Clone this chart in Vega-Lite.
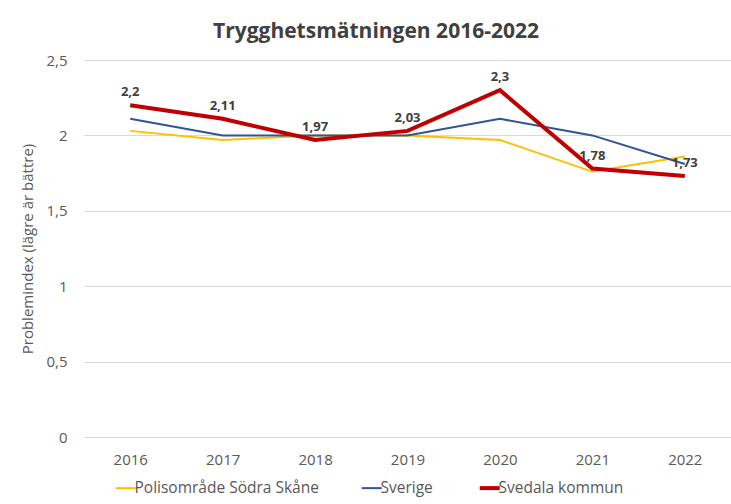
{
  "$schema": "https://vega.github.io/schema/vega-lite/v6.json",
  "width": 647,
  "height": 377,
  "autosize": {"type": "none"},
  "padding": {"left": 84, "top": 60, "right": 0, "bottom": 67},
  "background": "white",
  "title": {
    "text": "Trygghetsmätningen 2016-2022",
    "fontSize": 21,
    "fontWeight": "bold",
    "color": "#404040",
    "font": "Open Sans",
    "anchor": "middle",
    "frame": "bounds",
    "offset": 11
  },
  "data": {
    "values": [
      {"year": "2016", "serie": "Polisområde Södra Skåne", "value": 2.03},
      {"year": "2017", "serie": "Polisområde Södra Skåne", "value": 1.97},
      {"year": "2018", "serie": "Polisområde Södra Skåne", "value": 2.0},
      {"year": "2019", "serie": "Polisområde Södra Skåne", "value": 2.0},
      {"year": "2020", "serie": "Polisområde Södra Skåne", "value": 1.97},
      {"year": "2021", "serie": "Polisområde Södra Skåne", "value": 1.76},
      {"year": "2022", "serie": "Polisområde Södra Skåne", "value": 1.86},
      {"year": "2016", "serie": "Sverige", "value": 2.11},
      {"year": "2017", "serie": "Sverige", "value": 2.0},
      {"year": "2018", "serie": "Sverige", "value": 2.0},
      {"year": "2019", "serie": "Sverige", "value": 2.0},
      {"year": "2020", "serie": "Sverige", "value": 2.11},
      {"year": "2021", "serie": "Sverige", "value": 2.0},
      {"year": "2022", "serie": "Sverige", "value": 1.81},
      {"year": "2016", "serie": "Svedala kommun", "value": 2.2},
      {"year": "2017", "serie": "Svedala kommun", "value": 2.11},
      {"year": "2018", "serie": "Svedala kommun", "value": 1.97},
      {"year": "2019", "serie": "Svedala kommun", "value": 2.03},
      {"year": "2020", "serie": "Svedala kommun", "value": 2.3},
      {"year": "2021", "serie": "Svedala kommun", "value": 1.78},
      {"year": "2022", "serie": "Svedala kommun", "value": 1.73}
    ]
  },
  "encoding": {
    "x": {
      "field": "year",
      "type": "ordinal",
      "scale": {"type": "point", "padding": 0.5},
      "axis": {
        "title": null,
        "labelAngle": 0,
        "labelFontSize": 15,
        "labelColor": "#595959",
        "labelFont": "Open Sans",
        "labelPadding": 15,
        "ticks": false,
        "domain": false,
        "grid": false
      }
    },
    "y": {
      "field": "value",
      "type": "quantitative",
      "scale": {"domain": [0, 2.5], "nice": false},
      "axis": {
        "title": "Problemindex (lägre är bättre)",
        "titleFontSize": 15,
        "titleFontWeight": "normal",
        "titleColor": "#595959",
        "titleFont": "Open Sans",
        "titlePadding": 10,
        "values": [0, 0.5, 1, 1.5, 2, 2.5],
        "format": "~g",
        "labelFontSize": 15,
        "labelColor": "#595959",
        "labelFont": "Open Sans",
        "labelPadding": 17,
        "ticks": false,
        "domain": false,
        "grid": true,
        "gridColor": "#d9d9d9",
        "gridWidth": 1
      }
    },
    "color": {
      "field": "serie",
      "type": "nominal",
      "scale": {
        "domain": ["Polisområde Södra Skåne", "Sverige", "Svedala kommun"],
        "range": ["#ffc000", "#2f5597", "#c00000"]
      },
      "legend": {
        "title": null,
        "orient": "none",
        "legendX": 34,
        "legendY": 420,
        "direction": "horizontal",
        "symbolType": "stroke",
        "symbolSize": 400,
        "symbolStrokeWidth": 2,
        "labelFontSize": 15.5,
        "labelColor": "#595959",
        "labelFont": "Open Sans",
        "labelLimit": 400,
        "labelOffset": 1,
        "columnPadding": 38,
        "encode": {
          "symbols": {
            "update": {
              "strokeWidth": {"signal": "datum.value === 'Svedala kommun' ? 4 : 2"}
            }
          }
        }
      }
    }
  },
  "layer": [
    {
      "transform": [{"filter": "datum.serie !== 'Svedala kommun'"}],
      "mark": {"type": "line", "strokeWidth": 2, "strokeJoin": "miter"}
    },
    {
      "transform": [{"filter": "datum.serie === 'Svedala kommun'"}],
      "mark": {"type": "line", "strokeWidth": 4, "strokeJoin": "miter", "strokeCap": "butt"}
    },
    {
      "transform": [{"filter": "datum.serie === 'Svedala kommun'"}],
      "mark": {
        "type": "text",
        "dy": -13,
        "fontSize": 13,
        "fontWeight": "bold",
        "color": "#404040",
        "font": "Open Sans"
      },
      "encoding": {
        "color": {"value": "#404040"},
        "text": {"field": "value", "type": "quantitative", "format": ".2~f"}
      }
    }
  ],
  "config": {
    "locale": {
      "number": {"decimal": ",", "thousands": " ", "grouping": [3], "currency": ["", " kr"]}
    },
    "view": {"stroke": null}
  }
}
